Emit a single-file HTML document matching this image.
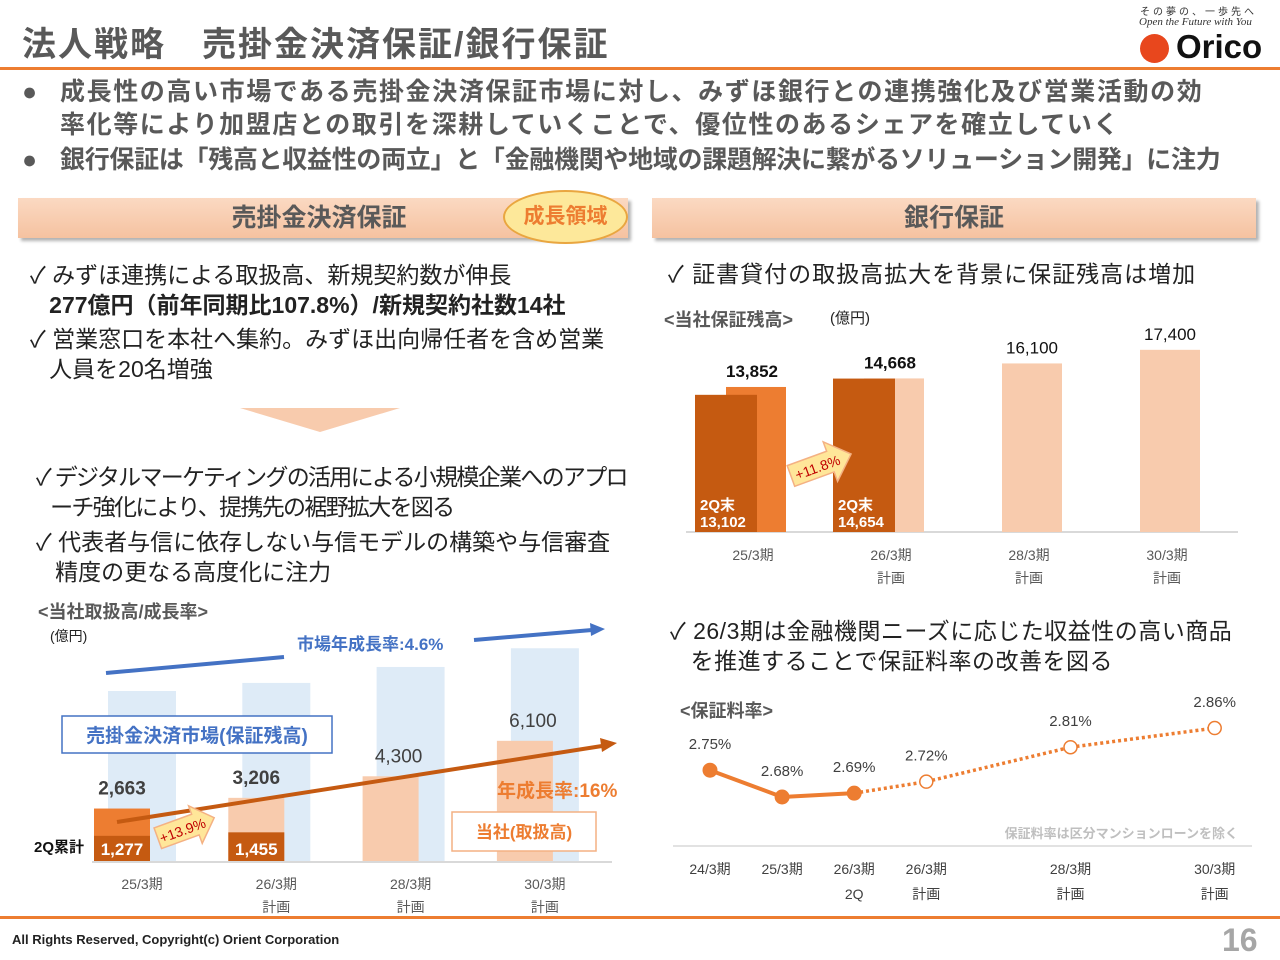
<!DOCTYPE html>
<html><head><meta charset="utf-8">
<style>
*{margin:0;padding:0;box-sizing:border-box}
body{width:1280px;height:960px;background:#fff;position:relative;overflow:hidden;font-family:"Liberation Sans","Noto Sans CJK JP",sans-serif;color:#222}
.a{position:absolute;white-space:nowrap}
.b{font-weight:bold}
.g{color:#595959}
.hdr{position:absolute;top:198px;height:40px;background:linear-gradient(#fbd9c2,#f5c2a0);box-shadow:3px 3px 3px rgba(0,0,0,0.3);text-align:center;font-size:25px;font-weight:bold;color:#595959;line-height:40px}
.t22{font-size:23px;line-height:30px}
svg text{font-family:"Liberation Sans","Noto Sans CJK JP",sans-serif}
</style></head><body>
<div class="a b g" style="left:22px;top:17px;font-size:34px;letter-spacing:2px">法人戦略　売掛金決済保証/銀行保証</div>
<div class="a" style="left:1140px;top:3px;font-size:10px;letter-spacing:3px;color:#333">その夢の、一歩先へ</div>
<div class="a" style="left:1139px;top:16px;font-size:11px;font-style:italic;font-family:'Liberation Serif',serif;color:#333">Open the Future with You</div>
<div class="a" style="left:1140px;top:34px;width:29px;height:29px;border-radius:50%;background:#e8471d"></div>
<div class="a b" style="left:1176px;top:28px;font-size:33px;color:#111">Orico</div>
<div class="a" style="left:0;top:67px;width:1280px;height:3px;background:#ed7d31"></div>

<div class="a b g" style="left:22px;top:76px;font-size:25px;line-height:33px">●</div>
<div class="a b g" style="left:60px;top:76px;font-size:25px;line-height:33px;letter-spacing:1.6px">成長性の高い市場である売掛金決済保証市場に対し、みずほ銀行との連携強化及び営業活動の効<br>率化等により加盟店との取引を深耕していくことで、優位性のあるシェアを確立していく</div>
<div class="a b g" style="left:22px;top:144px;font-size:25px;line-height:33px">●</div>
<div class="a b g" style="left:60px;top:144px;font-size:25px;line-height:33px;letter-spacing:-0.3px">銀行保証は「残高と収益性の両立」と「金融機関や地域の課題解決に繋がるソリューション開発」に注力</div>

<div class="hdr" style="left:18px;width:610px;padding-right:8px">売掛金決済保証</div>
<div class="a" style="left:503px;top:190px;width:125px;height:54px;border-radius:50%;background:#fde89a;border:2px solid #e9a640;color:#ed7d31;font-size:21px;font-weight:bold;text-align:center;line-height:50px">成長領域</div>
<div class="hdr" style="left:652px;width:604px">銀行保証</div>

<div class="a t22" style="left:30px;top:260px">✓ みずほ連携による取扱高、新規契約数が伸長<br>&nbsp;&nbsp;&nbsp;<b>277億円（前年同期比107.8%）/新規契約社数14社</b></div>
<div class="a t22" style="left:30px;top:324px">✓ 営業窓口を本社へ集約。みずほ出向帰任者を含め営業<br>&nbsp;&nbsp;&nbsp;人員を20名増強</div>
<div class="a" style="left:240px;top:408px;width:0;height:0;border-left:80px solid transparent;border-right:80px solid transparent;border-top:24px solid #f8cbad"></div>
<div class="a t22" style="left:36px;top:462px;letter-spacing:-1.7px">✓ デジタルマーケティングの活用による小規模企業へのアプロ<br>&nbsp;&nbsp;&nbsp;ーチ強化により、提携先の裾野拡大を図る</div>
<div class="a t22" style="left:36px;top:527px">✓ 代表者与信に依存しない与信モデルの構築や与信審査<br>&nbsp;&nbsp;&nbsp;精度の更なる高度化に注力</div>
<div class="a b g" style="left:38px;top:598px;font-size:18px">&lt;当社取扱高/成長率&gt;</div>
<div class="a" style="left:50px;top:626px;font-size:14px">(億円)</div>

<div class="a t22" style="left:668px;top:259px;letter-spacing:1px">✓ 証書貸付の取扱高拡大を背景に保証残高は増加</div>
<div class="a b g" style="left:664px;top:306px;font-size:18px">&lt;当社保証残高&gt;</div>
<div class="a" style="left:830px;top:307px;font-size:15px">(億円)</div>
<div class="a t22" style="left:670px;top:616px;letter-spacing:0.5px">✓ 26/3期は金融機関ニーズに応じた収益性の高い商品<br>&nbsp;&nbsp;&nbsp;を推進することで保証料率の改善を図る</div>
<div class="a b g" style="left:680px;top:697px;font-size:18px">&lt;保証料率&gt;</div>

<svg class="a" style="left:0;top:0" width="1280" height="960">
<g id="lc"></g><g id="rc"></g><g id="pc"></g>
</svg>

<div class="a" style="left:0;top:916px;width:1280px;height:3px;background:#ed7d31"></div>
<div class="a b" style="left:12px;top:932px;font-size:13px">All Rights Reserved, Copyright(c) Orient Corporation</div>
<div class="a b" style="left:1222px;top:922px;font-size:32px;color:#a6a6a6">16</div>

<script>
const NS="http://www.w3.org/2000/svg";
function mk(p,t,at,txt){const e=document.createElementNS(NS,t);for(const k in at)e.setAttribute(k,at[k]);if(txt!==undefined)e.textContent=txt;p.appendChild(e);return e;}

// ---- Left chart data ----
const lCats=["25/3期","26/3期","28/3期","30/3期"];
const lSub=["","計画","計画","計画"];
const lMarket=[8630,9040,9850,10800];
const lCompany=[2663,3206,4300,6100];
const lHalf=[1277,1455,null,null];
const lLabels=["2,663","3,206","4,300","6,100"];
const lHalfLabels=["1,277","1,455"];
// ---- Right chart data ----
const rCats=["25/3期","26/3期","28/3期","30/3期"];
const rSub=["","計画","計画","計画"];
const rBal=[13852,14668,16100,17400];
const rHalf=[13102,14654,null,null];
const rLabels=["13,852","14,668","16,100","17,400"];
const rHalfLabels=["13,102","14,654"];
// ---- Rate chart data ----
const pCats=["24/3期","25/3期","26/3期","26/3期","28/3期","30/3期"];
const pSub=["","","2Q","計画","計画","計画"];
const pYears=[0,1,2,3,5,7];
const pRate=[2.75,2.68,2.69,2.72,2.81,2.86];
const pActual=[true,true,true,false,false,false];

// Left chart
(function(){
 const g=document.getElementById("lc");
 const base=861,k=0.0197,x0=142,step=134.3;
 const xc=i=>x0+i*step, y=v=>base-v*k;
 mk(g,"line",{x1:92,x2:612,y1:base+1,y2:base+1,stroke:"#d9d9d9","stroke-width":2});
 lMarket.forEach((v,i)=>{const r=mk(g,"rect",{x:xc(i)-34,y:y(v),width:68,height:v*k,fill:"#deebf7"});
  
  });
 lCompany.forEach((v,i)=>{const r=mk(g,"rect",{x:xc(i)-48,y:y(v),width:56,height:v*k,fill:i==0?"#ed7d31":"#f8cbad"});
  
  
  const t=mk(g,"text",{x:xc(i)-20+(i>=2?8:0),y:y(v)-14,"font-size":19,"font-weight":i<2?"bold":"normal",fill:"#404040","text-anchor":"middle"},lLabels[i]);
  
  });
 lHalf.forEach((v,i)=>{if(v==null)return;const r=mk(g,"rect",{x:xc(i)-48,y:y(v),width:56,height:v*k,fill:"#c55a11"});
  
  
  const t=mk(g,"text",{x:xc(i)-20,y:base-6,"font-size":17,"font-weight":"bold",fill:"#fff","text-anchor":"middle"},lHalfLabels[i]);
  
  });
 lCats.forEach((c,i)=>{const t=mk(g,"text",{x:xc(i),y:889,"font-size":14,fill:"#595959","text-anchor":"middle"},c);
  
  
  if(lSub[i]){const s=mk(g,"text",{x:xc(i),y:912,"font-size":14,fill:"#595959","text-anchor":"middle"},lSub[i]);
  
  }});
 const q=mk(g,"text",{x:34,y:852,"font-size":15,"font-weight":"bold",fill:"#111"},"2Q累計");
 
 
 mk(g,"line",{x1:106,y1:673,x2:284,y2:657,stroke:"#4472c4","stroke-width":4});
 mk(g,"line",{x1:474,y1:640,x2:592,y2:630,stroke:"#4472c4","stroke-width":4});
 mk(g,"polygon",{points:"605,629 590,623 591,636",fill:"#4472c4"});
 const mt=mk(g,"text",{x:297,y:650,"font-size":17,"font-weight":"bold",fill:"#4472c4"},"市場年成長率:4.6%");
 
 
 mk(g,"rect",{x:62,y:716,width:270,height:37,fill:"#fff",stroke:"#4472c4","stroke-width":1.5});
 const ml=mk(g,"text",{x:197,y:742,"font-size":19,"font-weight":"bold",fill:"#4472c4","text-anchor":"middle"},"売掛金決済市場(保証残高)");
 
 
 mk(g,"line",{x1:117,y1:822,x2:602,y2:746,stroke:"#c55a11","stroke-width":4});
 mk(g,"polygon",{points:"617,743 600,738 602,752",fill:"#c55a11"});
 const ct=mk(g,"text",{x:497,y:797,"font-size":19,"font-weight":"bold",fill:"#ed7d31"},"年成長率:16%");
 
 
 mk(g,"rect",{x:452,y:812,width:144,height:39,fill:"#fff",stroke:"#f4b183","stroke-width":1.5});
 const cl=mk(g,"text",{x:524,y:838,"font-size":17,"font-weight":"bold",fill:"#ed7d31","text-anchor":"middle"},"当社(取扱高)");
 
 
 const ag=mk(g,"g",{transform:"translate(186,828) rotate(-20)"});
 mk(ag,"polygon",{points:"-30,-11 10,-11 10,-20 30,0 10,20 10,11 -30,11",fill:"#ffe699",stroke:"#f4b183","stroke-width":1.5});
 const at=mk(ag,"text",{x:-4,y:6,"font-size":14,fill:"#c00000","text-anchor":"middle"},"+13.9%");
 
 
})();

// Right chart
(function(){
 const g=document.getElementById("rc");
 const base=532,k=0.01047,x0=756,step=138;
 const xc=i=>x0+i*step, y=v=>base-v*k;
 mk(g,"line",{x1:686,x2:1238,y1:base,y2:base,stroke:"#d9d9d9","stroke-width":2});
 rBal.forEach((v,i)=>{const r=mk(g,"rect",{x:xc(i)-30,y:y(v),width:60,height:v*k,fill:i==0?"#ed7d31":"#f8cbad"});
  
  
  const t=mk(g,"text",{x:xc(i)-(i<2?4:0),y:y(v)-10,"font-size":17,"font-weight":i<2?"bold":"normal",fill:"#111","text-anchor":"middle"},rLabels[i]);
  
  });
 rHalf.forEach((v,i)=>{if(v==null)return;const r=mk(g,"rect",{x:xc(i)-61,y:y(v),width:62,height:v*k,fill:"#c55a11"});
  
  
  const a=mk(g,"text",{x:xc(i)-56,y:510,"font-size":15,"font-weight":"bold",fill:"#fff"},"2Q末");
  
  
  const t=mk(g,"text",{x:xc(i)-56,y:527,"font-size":15,"font-weight":"bold",fill:"#fff"},rHalfLabels[i]);
  
  });
 rCats.forEach((c,i)=>{const t=mk(g,"text",{x:xc(i)-3,y:560,"font-size":14,fill:"#595959","text-anchor":"middle"},c);
  
  
  if(rSub[i]){const s=mk(g,"text",{x:xc(i)-3,y:583,"font-size":14,fill:"#595959","text-anchor":"middle"},rSub[i]);
  
  }});
 const ag=mk(g,"g",{transform:"translate(821,465) rotate(-20)"});
 mk(ag,"polygon",{points:"-32,-11 10,-11 10,-21 32,0 10,21 10,11 -32,11",fill:"#ffe699",stroke:"#f4b183","stroke-width":1.5});
 const at=mk(ag,"text",{x:-4,y:6,"font-size":14,fill:"#c00000","text-anchor":"middle"},"+11.8%");
 
 
})();

// Rate chart
(function(){
 const g=document.getElementById("pc");
 const xs=t=>710+t*72.1, ys=v=>797-(v-2.68)*383;
 mk(g,"line",{x1:673,x2:1252,y1:846,y2:846,stroke:"#d9d9d9","stroke-width":1.5});
 const n=mk(g,"text",{x:1238,y:838,"font-size":13,"font-weight":"bold",fill:"#bfbfbf","text-anchor":"end"},"保証料率は区分マンションローンを除く");
 
 
 for(let i=0;i<pRate.length-1;i++){
  const act=pActual[i+1];
  const l=mk(g,"line",{x1:xs(pYears[i]),y1:ys(pRate[i]),x2:xs(pYears[i+1]),y2:ys(pRate[i+1]),stroke:"#ed7d31","stroke-width":act?4:3.5,"stroke-dasharray":act?"none":"3,3"});
  
  
 }
 pRate.forEach((v,i)=>{
  const c=mk(g,"circle",{cx:xs(pYears[i]),cy:ys(v),r:pActual[i]?7:6.5,fill:pActual[i]?"#ed7d31":"#fff",stroke:"#ed7d31","stroke-width":pActual[i]?1:1.5});
  
  
  const t=mk(g,"text",{x:xs(pYears[i]),y:ys(v)-21,"font-size":15,fill:"#404040","text-anchor":"middle"},v.toFixed(2)+"%");
  
  
  const x=mk(g,"text",{x:xs(pYears[i]),y:874,"font-size":14,fill:"#404040","text-anchor":"middle"},pCats[i]);
  
  
  if(pSub[i]){const s=mk(g,"text",{x:xs(pYears[i]),y:899,"font-size":14,fill:"#404040","text-anchor":"middle"},pSub[i]);
  
  }
 });
})();
</script>
</body></html>
